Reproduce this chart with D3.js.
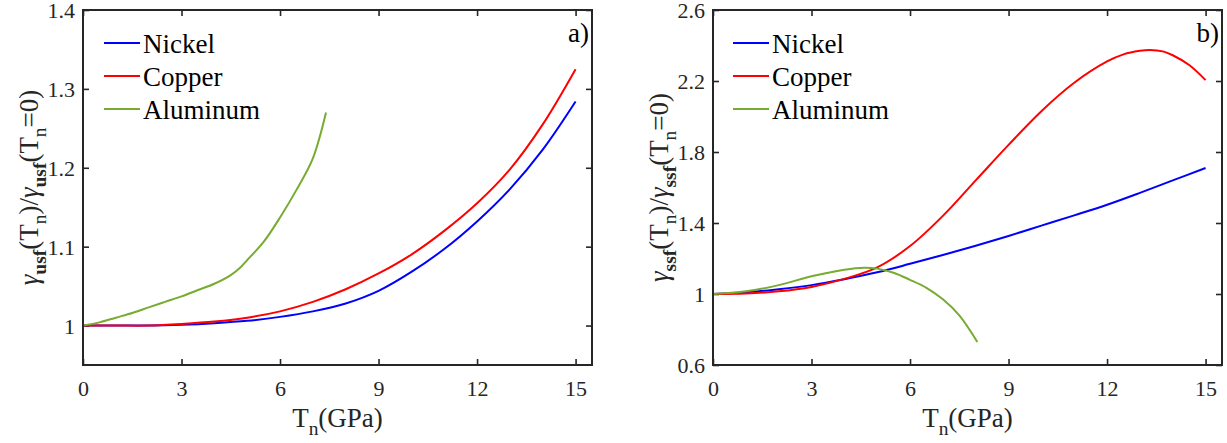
<!DOCTYPE html>
<html><head><meta charset="utf-8">
<script src="https://cdn.jsdelivr.net/npm/d3@7"></script>
<style>
body{margin:0;background:#fff}
svg, svg text, svg tspan{font-family:'Liberation Serif','Times New Roman',Times,'DejaVu Serif',serif !important;}
</style>
</head><body><svg id="c" width="1227" height="443" style="font-family:'Liberation Serif','Times New Roman',Times,serif"></svg>
<script>
// ---------- data ----------
const seriesNames = ["Nickel", "Copper", "Aluminum"];
const seriesColors = ["#0000ff", "#ff0000", "#77ac30"];
const xTicks = [0, 3, 6, 9, 12, 15];
const yTicksA = [1, 1.1, 1.2, 1.3, 1.4];
const yTicksB = [0.6, 1, 1.4, 1.8, 2.2, 2.6];

// panel a) usf
const nickelA_x = [0,1,2,3,4,5,6,7,8,9,10,11,12,13,14,15];
const nickelA_y = [1,1,1,1.001,1.003,1.006,1.011,1.018,1.028,1.044,1.068,1.097,1.132,1.173,1.223,1.284];
const copperA_x = [0,1,2,3,4,5,6,7,8,9,10,11,12,13,14,15];
const copperA_y = [1,1,1,1.002,1.005,1.01,1.018,1.03,1.046,1.066,1.09,1.12,1.155,1.198,1.255,1.325];
const aluminumA_x = [0,0.5,1,1.5,2,2.5,3,3.5,4,4.5,4.8,5,5.5,6,6.5,7,7.4];
const aluminumA_y = [1,1.004,1.01,1.016,1.023,1.03,1.037,1.045,1.053,1.064,1.074,1.083,1.106,1.137,1.172,1.212,1.27];

// panel b) ssf
const nickelB_x = [0,1,2,3,4,5,6,7,8,9,10,11,12,13,14,15];
const nickelB_y = [1,1.01,1.027,1.05,1.083,1.122,1.17,1.22,1.272,1.327,1.385,1.443,1.503,1.57,1.64,1.71];
const copperB_x = [0,1,2,3,4,5,6,7,8,9,10,11,12,12.5,13,13.3,13.7,14,14.5,15];
const copperB_y = [1,1.003,1.015,1.04,1.085,1.15,1.27,1.44,1.64,1.84,2.03,2.19,2.31,2.35,2.37,2.375,2.367,2.345,2.29,2.205];
const aluminumB_x = [0,1,2,3,4,4.6,5,5.5,6,6.5,7,7.5,8.05];
const aluminumB_y = [1,1.015,1.05,1.1,1.137,1.148,1.143,1.12,1.08,1.035,0.97,0.88,0.73];

const panels = [
  {left:83, right:592, top:10, bottom:365, yDomain:[0.95,1.4], yTicks:yTicksA,
   series:[[nickelA_x,nickelA_y],[copperA_x,copperA_y],[aluminumA_x,aluminumA_y]],
   sub:"usf", tag:"a)", labelX:38, legX:104},
  {left:713, right:1222, top:10, bottom:365, yDomain:[0.6,2.6], yTicks:yTicksB,
   series:[[nickelB_x,nickelB_y],[copperB_x,copperB_y],[aluminumB_x,aluminumB_y]],
   sub:"ssf", tag:"b)", labelX:668, legX:733}
];

const svg = d3.select("#c");
const axisColor = "#262626";
const FONT = "'Liberation Serif','Times New Roman',Times,serif";
const tickFont = 22, labFont = 27;
const yFmt = d => d === 1 ? "1" : d3.format(".1f")(d);

function rich(textSel, parts, size){
  let prevSub = false;
  parts.forEach(p=>{
    const ts = textSel.append("tspan").text(p.t);
    if(p.sub){ ts.attr("font-size", size*0.72); if(!prevSub) ts.attr("dy", size*0.3); }
    else if(prevSub){ ts.attr("dy", -size*0.3); }
    if(p.bold) ts.attr("font-weight","bold");
    if(p.it) ts.attr("font-style","italic");
    prevSub = !!p.sub;
  });
}

panels.forEach(P=>{
  const x = d3.scaleLinear().domain([0,15.5]).range([P.left,P.right]);
  const y = d3.scaleLinear().domain(P.yDomain).range([P.bottom,P.top]);
  const g = svg.append("g").style("font-family", FONT);

  const ax = [
    g.append("g").attr("transform",`translate(0,${P.bottom})`)
      .call(d3.axisBottom(x).tickValues(xTicks).tickSizeInner(-6).tickSizeOuter(0).tickPadding(15).tickFormat(d3.format("d"))),
    g.append("g").attr("transform",`translate(0,${P.top})`)
      .call(d3.axisTop(x).tickValues(xTicks).tickSizeInner(-6).tickSizeOuter(0).tickFormat("")),
    g.append("g").attr("transform",`translate(${P.left},0)`)
      .call(d3.axisLeft(y).tickValues(P.yTicks).tickSizeInner(-6).tickSizeOuter(0).tickPadding(8).tickFormat(yFmt)),
    g.append("g").attr("transform",`translate(${P.right},0)`)
      .call(d3.axisRight(y).tickValues(P.yTicks).tickSizeInner(-6).tickSizeOuter(0).tickFormat(""))
  ];
  ax.forEach(a=>{
    a.attr("font-family", null).attr("font-size", null).style("font-family", FONT);
    a.select(".domain").remove();
    a.selectAll(".tick line").attr("stroke",axisColor).attr("stroke-width",1.6);
    a.selectAll(".tick text").style("font-family", FONT).attr("font-size",tickFont).attr("fill",axisColor);
  });
  // keep top labels inside the picture
  ax[2].selectAll(".tick text").attr("dy","0.36em");

  const line = d3.line().x(d=>x(d[0])).y(d=>y(d[1])).curve(d3.curveCatmullRom.alpha(0.5));
  P.series.forEach((s,i)=>{
    const pts = s[0].map((xv,k)=>[xv,s[1][k]]);
    g.append("path").attr("d",line(pts)).attr("fill","none")
      .attr("stroke",seriesColors[i]).attr("stroke-width",2);
  });

  g.append("rect").attr("x",P.left).attr("y",P.top).attr("width",P.right-P.left).attr("height",P.bottom-P.top)
    .attr("fill","none").attr("stroke",axisColor).attr("stroke-width",2);

  seriesNames.forEach((n,i)=>{
    const ly = 43 + i*33;
    g.append("line").attr("x1",P.legX).attr("x2",P.legX+36).attr("y1",ly).attr("y2",ly)
      .attr("stroke",seriesColors[i]).attr("stroke-width",2);
    g.append("text").style("font-family", FONT).attr("x",P.legX+39).attr("y",ly+9.5)
      .attr("font-size",labFont).attr("fill","#000").text(n);
  });

  g.append("text").style("font-family", FONT).attr("x",P.right-3).attr("y",42).attr("text-anchor","end")
    .attr("font-size",labFont).attr("fill","#000").text(P.tag);

  const xl = g.append("text").style("font-family", FONT).attr("x",(P.left+P.right)/2).attr("y",427)
    .attr("text-anchor","middle").attr("font-size",labFont).attr("fill",axisColor);
  rich(xl,[{t:"T"},{t:"n",sub:true},{t:"(GPa)"}],labFont);

  const yl = g.append("text").style("font-family", FONT)
    .attr("transform",`translate(${P.labelX},${(P.top+P.bottom)/2}) rotate(-90)`)
    .attr("text-anchor","middle").attr("font-size",labFont).attr("fill",axisColor);
  rich(yl,[{t:"γ",it:true},{t:P.sub,sub:true,bold:true},{t:"(T"},{t:"n",sub:true},{t:")/"},
           {t:"γ",it:true},{t:P.sub,sub:true,bold:true},{t:"(T"},{t:"n",sub:true},{t:"=0)"}],labFont);
});
</script></body></html>
